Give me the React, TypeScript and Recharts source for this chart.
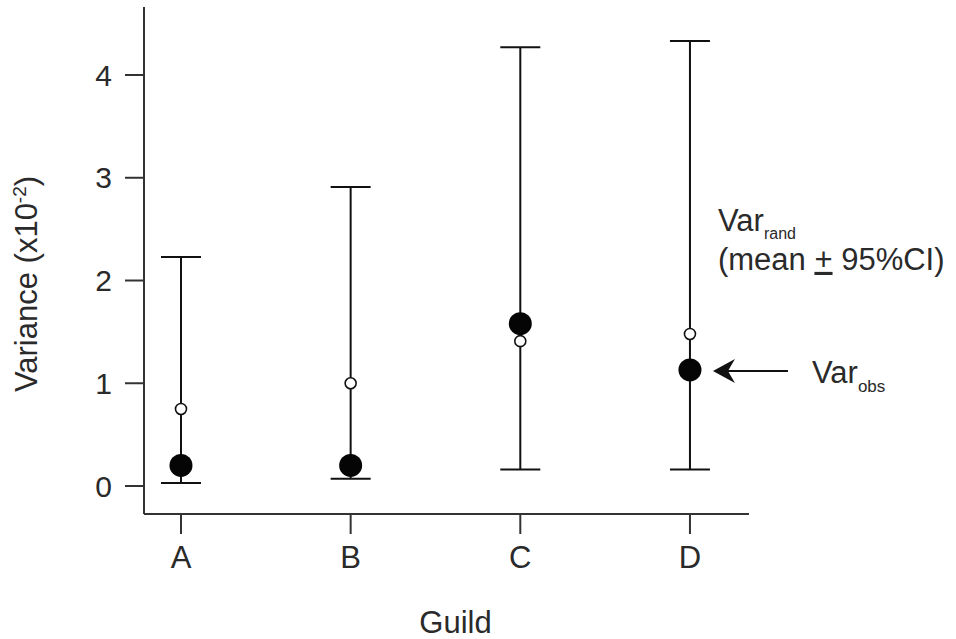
import { ComposedChart, ErrorBar, ReferenceDot, Scatter, XAxis, YAxis } from 'recharts'

const guilds = ['A', 'B', 'C', 'D']
const randMean = [0.75, 1.0, 1.41, 1.48]
const randLower = [0.03, 0.07, 0.16, 0.16]
const randUpper = [2.23, 2.91, 4.27, 4.33]
const observed = [0.2, 0.2, 1.58, 1.13]
const yTicks = [0, 1, 2, 3, 4]

const FONT = '"Liberation Sans", Arial, sans-serif'
const INK = '#111'
const TEXT = '#2a2a2a'

const data = guilds.map((guild, i) => ({
  pos: i,
  guild,
  mean: randMean[i],
  obs: observed[i],
  ci: [randMean[i] - randLower[i], randUpper[i] - randMean[i]],
}))

function OpenDot({ cx, cy }: any) {
  return <circle cx={cx} cy={cy} r={5.5} fill="#fff" stroke={INK} strokeWidth={1.6} />
}

function FilledDot({ cx, cy }: any) {
  return <circle cx={cx} cy={cy} r={11.5} fill="#050505" />
}

function VarianceLabel() {
  return (
    <text x={37} y={284} transform="rotate(-90 37 284)" textAnchor="middle" fill={TEXT} fontSize={31} fontFamily={FONT}>
      Variance (x10
      <tspan dy={-11} fontSize={19}>-2</tspan>
      <tspan dy={11}>)</tspan>
    </text>
  )
}

// arrow + captions hang off the observed point of the last guild
function Notes({ cx, cy }: any) {
  const y = cy + 1
  return (
    <g fontFamily={FONT} fill={TEXT}>
      <text x={cx + 28} y={cy - 139} fontSize={31}>
        Var<tspan dy={8} fontSize={16}>rand</tspan>
      </text>
      <text x={cx + 28} y={cy - 100} fontSize={31}>
        (mean <tspan textDecoration="underline">+</tspan> 95%CI)
      </text>
      <line x1={cx + 34} y1={y} x2={cx + 98} y2={y} stroke={INK} strokeWidth={2} />
      <polygon
        points={`${cx + 23},${y} ${cx + 45},${y - 12} ${cx + 38},${y} ${cx + 45},${y + 12}`}
        fill={INK}
      />
      <text x={cx + 122} y={cy + 13} fontSize={31}>
        Var<tspan dy={9} fontSize={17}>obs</tspan>
      </text>
    </g>
  )
}

export default function App() {
  return (
    <div style={{ position: 'absolute', left: 0, top: 0, width: 956, height: 639, background: '#fff' }}>
      <ComposedChart width={956} height={639} data={data} margin={{ top: 7, right: 207, bottom: 0, left: 0 }}>
        <XAxis
          type="number"
          dataKey="pos"
          domain={[-0.218, 3.348]}
          ticks={[0, 1, 2, 3]}
          interval={0}
          tickFormatter={(i: number) => guilds[i]}
          height={125}
          tickSize={20}
          tickMargin={12}
          axisLine={{ stroke: '#333', strokeWidth: 2 }}
          tickLine={{ stroke: '#333', strokeWidth: 2 }}
          tick={{ fill: TEXT, fontSize: 31, fontFamily: FONT }}
          allowDataOverflow
          label={{
            value: 'Guild',
            position: 'insideBottom',
            offset: 6,
            dx: 9,
            fill: TEXT,
            fontSize: 31,
            fontFamily: FONT,
          }}
        />
        <YAxis
          type="number"
          domain={[-0.2725, 4.662]}
          ticks={yTicks}
          interval={0}
          width={144}
          tickSize={19}
          tickMargin={13}
          axisLine={{ stroke: '#333', strokeWidth: 2 }}
          tickLine={{ stroke: '#333', strokeWidth: 2 }}
          tick={{ fill: TEXT, fontSize: 30, fontFamily: FONT }}
          allowDataOverflow
          label={{ content: <VarianceLabel /> }}
        />
        <Scatter dataKey="mean" shape={<OpenDot />} isAnimationActive={false}>
          <ErrorBar dataKey="ci" direction="y" width={20} stroke={INK} strokeWidth={2} isAnimationActive={false} />
        </Scatter>
        <Scatter dataKey="obs" shape={<FilledDot />} isAnimationActive={false} />
        <ReferenceDot x={3} y={observed[3]} r={0} shape={<Notes />} />
      </ComposedChart>
    </div>
  )
}
